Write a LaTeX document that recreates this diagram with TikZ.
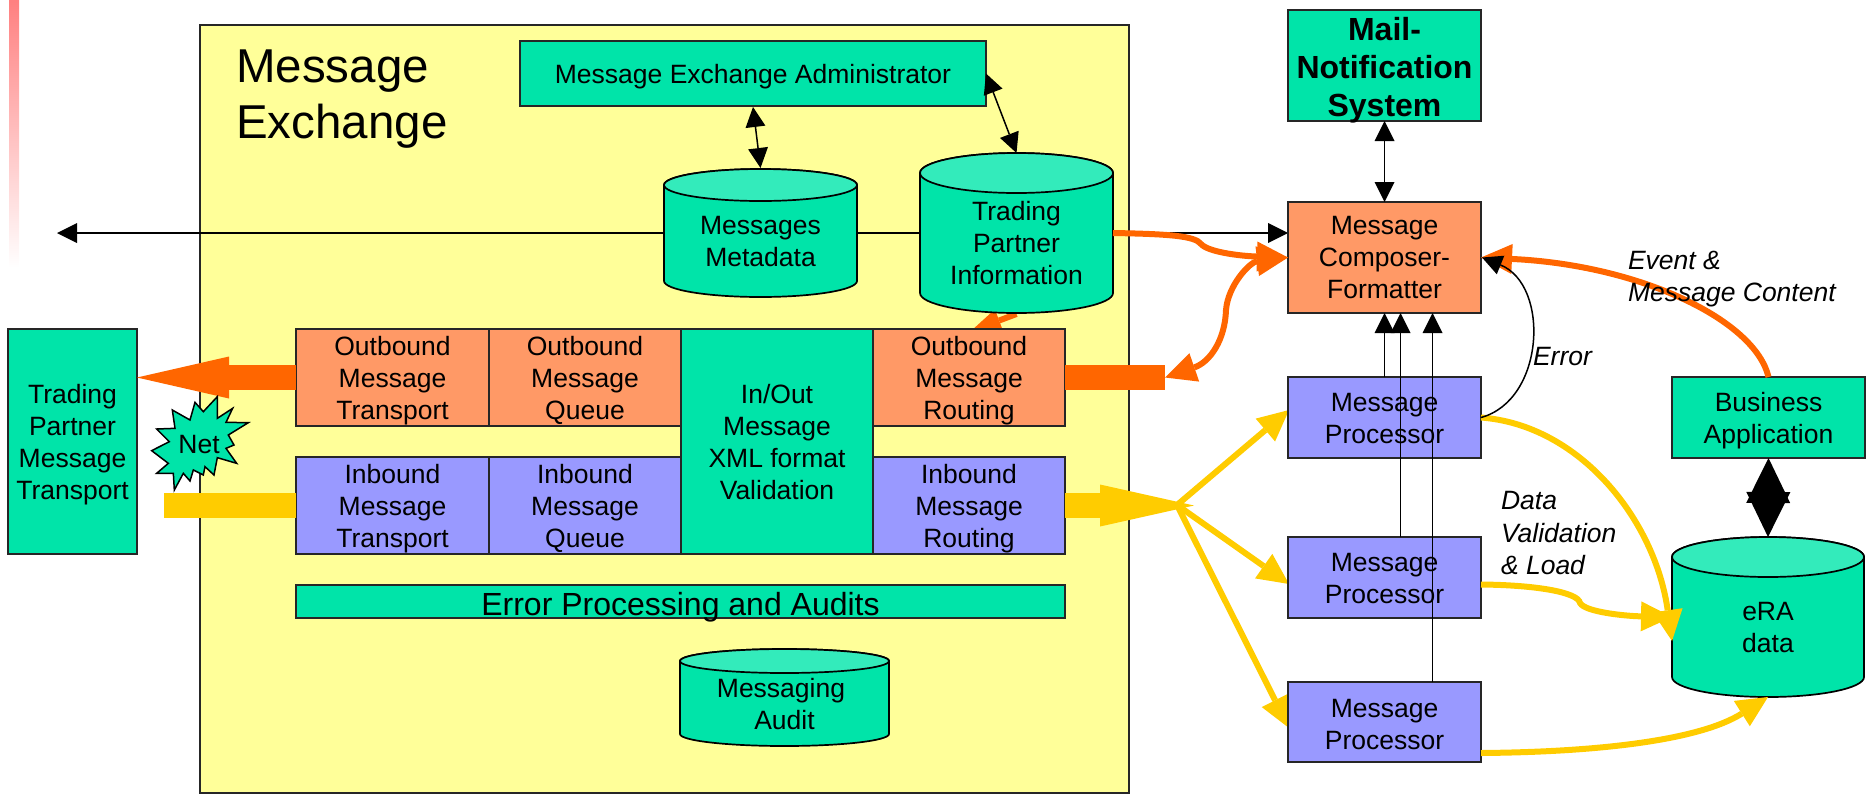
\documentclass[tikz,border=0pt]{standalone}
\usepackage{fontspec}
\setmainfont{Liberation Sans}
\usetikzlibrary{arrows.meta,calc}
\pgfdeclarelayer{back}
\pgfdeclarelayer{conn}
\pgfdeclarelayer{over}
\pgfsetlayers{back,conn,main,over}
\definecolor{grn}{HTML}{00E4A9}
\definecolor{grntop}{HTML}{33EBBB}
\definecolor{orbox}{HTML}{FF9966}
\definecolor{pbox}{HTML}{9999FF}
\definecolor{yelbg}{HTML}{FFFF99}
\definecolor{orline}{HTML}{FF6600}
\definecolor{yeline}{HTML}{FFCC00}
\tikzset{
  x=1pt,y=-1pt,
  txt/.style={font=\fontsize{26.5}{32}\selectfont,align=center,inner sep=0pt,outer sep=0pt,execute at begin node=\strut,execute at end node=\strut},
  nostrut/.style={execute at begin node={},execute at end node={}},
  lab/.style={font=\itshape\fontsize{26.5}{32.5}\selectfont,align=left,inner sep=0pt,outer sep=0pt,anchor=north west},
  boxb/.style={txt,draw=black!85,line width=1.7pt},
  gbox/.style={boxb,fill=grn},
  obox/.style={boxb,fill=orbox},
  bbox/.style={boxb,fill=pbox},
  cylbody/.style={fill=grn,draw=black,line width=1.7pt},
  cyltop/.style={fill=grntop,draw=black,line width=1.7pt},
  thinarr/.style={draw=black,line width=1.5pt,{Triangle[length=20pt,width=20pt,line width=0pt]}-{Triangle[length=20pt,width=20pt,line width=0pt]}},
  onearr/.style={draw=black,line width=1.5pt,-{Triangle[length=20pt,width=20pt,line width=0pt]}},
  orthick/.style={draw=orline,line width=6pt,-{Triangle[length=31pt,width=30pt,line width=0pt]}},
  orboth/.style={draw=orline,line width=6pt,{Triangle[length=31pt,width=30pt,line width=0pt]}-{Triangle[length=31pt,width=30pt,line width=0pt]}},
  orsmall/.style={draw=orline,line width=6pt,-{Triangle[length=30pt,width=24pt,line width=0pt]}},
  yethick/.style={draw=yeline,line width=6pt,-{Triangle[length=31pt,width=30pt,line width=0pt]}},
  orbig/.style={draw=orline,line width=25pt,-{Triangle[length=92pt,width=42pt,line width=0pt]}},
  orbar/.style={draw=orline,line width=25pt},
  yebig/.style={draw=yeline,line width=25pt,-{Triangle[length=94pt,width=42pt,line width=0pt]}},
  yebar/.style={draw=yeline,line width=25pt},
  diam/.style={draw=black,line width=1pt,{Triangle[length=45pt,width=44pt,line width=0pt]}-{Triangle[length=45pt,width=44pt,line width=0pt]}},
  netstar/.style={fill=grn,draw=black,line width=1.5pt,line join=miter},
}
\newcommand\bx[8][5.4]{\node[#3,nostrut,font=\fontsize{1}{1}\selectfont,minimum width={#6-#4},minimum height={#7-#5}] (#2) at ({(#4+#6)/2},{(#5+#7)/2}) {};
  \node[#3,draw=none,fill=none] (#2t) at ($(#2.center)+(0,#1)$) {#8};}
\newcommand\cyl[8]{%
  \pgfmathsetmacro\cxc{(#2+#3)/2}\pgfmathsetmacro\crx{(#3-#2)/2}%
  \draw[cylbody] (#2,{#5-#6}) arc[start angle=180,end angle=360,x radius=\crx pt,y radius=#6pt] -- (#3,{#4+#6}) arc[start angle=0,end angle=180,x radius=\crx pt,y radius=#6pt] -- cycle;
  \draw[cyltop] (\cxc,{#4+#6}) ellipse[x radius=\crx pt,y radius=#6pt];
  \node[inner sep=0pt,outer sep=0pt,minimum width={#3-#2},minimum height={#5-#4}] (#1) at (\cxc,{(#4+#5)/2}) {};
  \node[txt] (#1t) at ($(#1.center)+(0,#7)$) {#8};
}
\begin{document}
\begin{tikzpicture}
\useasboundingbox (0,0) rectangle (1867,796);
% main layer: cylinders and boxes
\cyl{mm}{664}{857}{169}{297}{16}{13}{Messages\\Metadata}
\cyl{tpi}{920}{1113}{153}{313}{20}{15}{Trading\\Partner\\Information}
\cyl{ma}{680}{889}{649}{746}{12}{11}{Messaging\hspace*{7pt}\\Audit}
\cyl{era}{1672}{1864}{537}{697}{20}{15}{eRA\\data}
\bx[4]{mea}{gbox}{520}{41}{986}{106}{Message Exchange Administrator}
\bx{tpm}{gbox}{8}{329}{137}{554}{Trading\\Partner\\Message\\Transport}
\bx{outT}{obox}{296}{329}{489}{426}{Outbound\\Message\\Transport}
\bx{outQ}{obox}{489}{329}{681}{426}{Outbound\\Message\\Queue}
\bx{val}{gbox}{681}{329}{873}{554}{In/Out\\Message\\XML format\\Validation}
\bx{outR}{obox}{873}{329}{1065}{426}{Outbound\\Message\\Routing}
\bx{inT}{bbox}{296}{457}{489}{554}{Inbound\\Message\\Transport}
\bx{inQ}{bbox}{489}{457}{681}{554}{Inbound\\Message\\Queue}
\bx{inR}{bbox}{873}{457}{1065}{554}{Inbound\\Message\\Routing}
\bx[6]{err}{gbox,font=\fontsize{32}{38}\selectfont}{296}{585}{1065}{618}{Error Processing and Audits}
\bx[7]{mail}{gbox,font=\bfseries\fontsize{32}{38}\selectfont}{1288}{10}{1481}{121}{Mail-\\Notification\\System}
\bx[5]{comp}{obox}{1288}{202}{1481}{313}{Message\\Composer-\\Formatter}
\bx[6]{mp1}{bbox}{1288}{377}{1481}{458}{Message\\Processor}
\bx[6]{mp2}{bbox}{1288}{537}{1481}{618}{Message\\Processor}
\bx[7.5]{mp3}{bbox}{1288}{682}{1481}{762}{Message\\Processor}
\bx[5.5]{biz}{gbox}{1672}{377}{1865}{458}{Business\\Application}
\coordinate (leftend) at (57,233);
\coordinate (orend) at (1165,377.5);
\coordinate (yeend) at (164,505.5);
\coordinate (fan) at (1177,505);
\begin{pgfonlayer}{back}
\shade[top color=red!50,bottom color=white] (9,0) rectangle (19,268);
\bx[0]{frame}{boxb,fill=yelbg}{200}{25}{1129}{793}{}
\node[font=\fontsize{47.5}{56}\selectfont,align=left,inner sep=0pt,anchor=north west] (title) at (236,50) {Message\\Exchange};
\end{pgfonlayer}
\begin{pgfonlayer}{conn}
\draw[thinarr] (leftend) -- ($(comp.west)+(0,-24.5)$);
\draw[orsmall] ($(tpi.south)+(0,1)$) -- ($(outR.north)+(2,2)$);
\draw[yethick] (fan) -- ($(mp1.west)+(1,-7.5)$);
\draw[yethick] (fan) -- ($(mp2.west)+(1,6.5)$);
\draw[yethick] (fan) -- ($(mp3.west)+(1,6)$);
\end{pgfonlayer}
\begin{pgfonlayer}{over}
\draw[orbig] (outT.west) -- (tpm.east |- outT.west);
\draw[yebar] (yeend) -- (inT.west);
\draw[orbar] (outR.east) -- (orend);
\draw[yebig] (inR.east) -- (1194,505.5);
\draw[orthick] (tpi.east) .. controls (1170,234) and (1195,236) .. (1201,244) .. controls (1208,252) and (1240,256) .. ($(comp.west)+(0,0)$);
\draw[orboth] (orend) .. controls (1210,362) and (1225,340) .. (1226,310) .. controls (1228,285) and (1250,262) .. (comp.west);
\draw[orthick] (biz.north) .. controls (1755,320) and (1640,265) .. (comp.east);
\draw[yethick] (mp1.east) .. controls (1580,425) and (1655,520) .. (1672,641);
\draw[yethick] ($(mp2.east)+(0,7)$) .. controls (1535,585) and (1578,592) .. (1580,603) .. controls (1585,612) and (1625,616) .. (1672,617);
\draw[yethick] ($(mp3.east)+(0,31)$) .. controls (1600,752) and (1700,740) .. (era.south);
\draw[thinarr] ($(mea.south)+(0,1)$) -- ($(mm.north)+(0,-1)$);
\draw[thinarr] (mea.east) -- ($(tpi.north)+(0,0)$);
\draw[thinarr] (mail.south) -- (comp.north);
\draw[onearr] (mp1.north) -- (comp.south);
\draw[onearr] ($(mp2.north)+(16,0)$) -- ($(comp.south)+(16,0)$);
\draw[onearr] ($(mp3.north)+(48,0)$) -- ($(comp.south)+(48,0)$);
\draw[onearr] (mp1.east) .. controls (1545,400) and (1550,285) .. ($(comp.east)+(1,0)$);
\draw[diam] (biz.south) -- (era.north);
\begin{scope}[shift={(140,385)},x=0.3333pt,y=-0.3333pt]
\draw[netstar] (232,35) -- (232,100) -- (278,70) -- (258,112) -- (325,113) -- (265,150) -- (282,180) -- (258,190) -- (290,235) -- (232,218) -- (222,270) -- (195,245) -- (190,270) -- (160,255) -- (150,288) -- (130,265) -- (103,315) -- (100,265) -- (50,265) -- (85,235) -- (35,197) -- (88,170) -- (50,132) -- (105,130) -- (97,75) -- (150,105) -- (165,52) -- (190,80) -- cycle;
\end{scope}
\node[txt] (net) at (199,447) {Net};
\node[lab] (lerr) at (1533,347.5) {Error};
\node[lab] (lev) at (1628,251) {Event \&\\Message Content};
\node[lab] (ldv) at (1501,491.5) {Data\\Validation\\\& Load};
\end{pgfonlayer}
\end{tikzpicture}
\end{document}
